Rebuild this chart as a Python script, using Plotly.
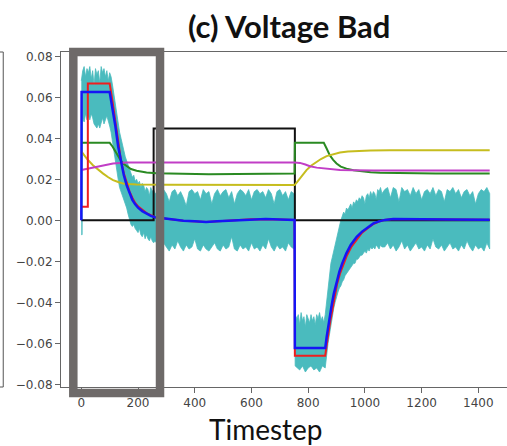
import plotly.graph_objects as go

# ---------------- data ----------------
# noisy measurement band (cyan): upper and lower envelopes
cyan_hi_t = (list(range(0, 101, 5)) + list(range(105, 261, 5)) + list(range(270, 751, 10))
             + [753, 754] + list(range(760, 861, 5)) + list(range(865, 1061, 5))
             + list(range(1070, 1441, 10)))
cyan_hi_v = (
    [0.068, 0.073, 0.075, 0.070, 0.074, 0.072, 0.075, 0.069, 0.073, 0.066, 0.074,
     0.071, 0.073, 0.067, 0.075, 0.072, 0.074, 0.070, 0.073, 0.068, 0.072]
    + [0.070, 0.066, 0.061, 0.056, 0.052, 0.048, 0.043, 0.040, 0.036, 0.034, 0.031,
       0.029, 0.028, 0.025, 0.024, 0.021, 0.022, 0.019, 0.020, 0.018, 0.019, 0.016,
       0.018, 0.017, 0.014, 0.016, 0.015, 0.012, 0.016, 0.014, 0.015, 0.013]
    + [0.014, 0.012, 0.015, 0.013, 0.009, 0.014, 0.015, 0.012, 0.014, 0.011, 0.007,
       0.014, 0.015, 0.013, 0.014, 0.010, 0.015, 0.013, 0.014, 0.008, 0.013, 0.015,
       0.012, 0.014, 0.015, 0.011, 0.014, 0.008, 0.013, 0.015, 0.014, 0.012, 0.015,
       0.010, 0.014, 0.015, 0.013, 0.014, 0.011, 0.015, 0.013, 0.008, 0.014, 0.015,
       0.012, 0.014, 0.010, 0.014, 0.013]
    + [0.013, -0.046]
    + [-0.048, -0.046, -0.051, -0.045, -0.049, -0.047, -0.052, -0.046, -0.048, -0.050,
       -0.046, -0.049, -0.047, -0.051, -0.046, -0.048, -0.045, -0.049, -0.047, -0.050,
       -0.046]
    + [-0.040, -0.033, -0.026, -0.021, -0.018, -0.015, -0.011, -0.008, -0.005, -0.002,
       0.000, 0.002, 0.004, 0.003, 0.006, 0.005, 0.007, 0.008, 0.006, 0.009, 0.008,
       0.010, 0.009, 0.011, 0.010, 0.012, 0.011, 0.008, 0.012, 0.013, 0.011, 0.014,
       0.012, 0.014, 0.013, 0.010, 0.015, 0.014, 0.016, 0.013]
    + [0.015, 0.016, 0.011, 0.016, 0.015, 0.009, 0.016, 0.014, 0.015, 0.012, 0.016,
       0.013, 0.015, 0.010, 0.014, 0.015, 0.013, 0.016, 0.012, 0.015, 0.014, 0.009,
       0.015, 0.014, 0.016, 0.013, 0.015, 0.011, 0.014, 0.015, 0.012, 0.014, 0.008,
       0.013, 0.015, 0.014, 0.016, 0.013]
)
cyan_lo_t = ([0, 3, 4] + list(range(10, 101, 5)) + list(range(105, 261, 5))
             + list(range(270, 751, 10)) + [753, 754] + list(range(760, 861, 10))
             + list(range(865, 1061, 5)) + list(range(1070, 1441, 10)))
cyan_lo_v = (
    [-0.007, -0.007, 0.050]
    + [0.048, 0.052, 0.049, 0.051, 0.049, 0.052, 0.050, 0.047, 0.046, 0.045, 0.047,
       0.045, 0.048, 0.050, 0.047, 0.049, 0.051, 0.049, 0.046]
    + [0.043, 0.039, 0.034, 0.029, 0.025, 0.020, 0.016, 0.014, 0.011, 0.009, 0.008,
       0.006, 0.003, 0.000, -0.002, -0.003, -0.002, -0.004, -0.005, -0.006, -0.004,
       -0.007, -0.008, -0.006, -0.009, -0.007, -0.009, -0.010, -0.008, -0.010, -0.011,
       -0.010]
    + [-0.012, -0.014, -0.011, -0.013, -0.015, -0.012, -0.014, -0.010, -0.013, -0.015,
       -0.012, -0.014, -0.013, -0.009, -0.014, -0.015, -0.012, -0.014, -0.015, -0.013,
       -0.011, -0.014, -0.015, -0.012, -0.014, -0.013, -0.008, -0.014, -0.015, -0.012,
       -0.014, -0.013, -0.015, -0.011, -0.014, -0.013, -0.015, -0.012, -0.014, -0.009,
       -0.013, -0.015, -0.012, -0.014, -0.013, -0.015, -0.011, -0.013, -0.014]
    + [-0.014, -0.071]
    + [-0.072, -0.073, -0.071, -0.074, -0.072, -0.071, -0.073, -0.072, -0.074, -0.071,
       -0.072]
    + [-0.066, -0.060, -0.055, -0.051, -0.047, -0.043, -0.040, -0.037, -0.035, -0.033,
       -0.032, -0.030, -0.029, -0.027, -0.026, -0.025, -0.024, -0.023, -0.022, -0.021,
       -0.021, -0.019, -0.019, -0.018, -0.017, -0.017, -0.016, -0.015, -0.016, -0.014,
       -0.015, -0.013, -0.014, -0.013, -0.014, -0.012, -0.013, -0.014, -0.012, -0.013]
    + [-0.013, -0.011, -0.014, -0.012, -0.015, -0.013, -0.010, -0.014, -0.012, -0.015,
       -0.013, -0.011, -0.014, -0.013, -0.015, -0.012, -0.014, -0.009, -0.013, -0.014,
       -0.012, -0.015, -0.013, -0.011, -0.014, -0.013, -0.015, -0.012, -0.014, -0.010,
       -0.013, -0.015, -0.012, -0.014, -0.013, -0.015, -0.011, -0.014]
)
assert len(cyan_hi_t) == len(cyan_hi_v), (len(cyan_hi_t), len(cyan_hi_v))
assert len(cyan_lo_t) == len(cyan_lo_v), (len(cyan_lo_t), len(cyan_lo_v))

# filtered estimate (blue)
blue_t = [0, 1, 100, 110, 120, 130, 140, 150, 160, 170, 180, 190, 200, 215, 230, 245, 260,
          280, 300, 330, 360, 400, 440, 480, 520, 560, 600, 650, 700, 752, 753, 860, 865,
          870, 876, 882, 890, 900, 910, 920, 935, 950, 971, 990, 1010, 1030, 1050, 1070,
          1100, 1150, 1200, 1300, 1400, 1440]
blue_v = [0.0, 0.0626, 0.0626, 0.055, 0.046, 0.036, 0.028, 0.022, 0.017, 0.013, 0.010,
          0.0078, 0.0062, 0.0045, 0.0032, 0.0022, 0.0015, 0.0011, 0.0008, 0.0003, -0.0002,
          -0.0005, -0.0008, -0.0004, -0.0001, 0.0002, 0.0005, 0.0006, 0.0004, 0.0002,
          -0.0623, -0.0623, -0.057, -0.052, -0.047, -0.042, -0.036, -0.030, -0.025, -0.021,
          -0.016, -0.012, -0.008, -0.0055, -0.0035, -0.0015, -0.0005, 0.0002, 0.0006,
          0.0007, 0.0005, 0.0004, 0.0003, 0.0003]

# true value (red)
red_t = [0, 23, 23, 100, 110, 120, 130, 140, 150, 160, 170, 180, 190, 200, 215, 230, 245,
         260, 300, 360, 440, 520, 600, 700, 752, 753, 860, 866, 872, 878, 885, 892, 902,
         912, 922, 937, 952, 972, 990, 1010, 1030, 1050, 1070, 1100, 1440]
red_v = [0.0066, 0.0066, 0.0667, 0.0667, 0.058, 0.048, 0.038, 0.029, 0.023, 0.018, 0.014,
         0.011, 0.0085, 0.0068, 0.005, 0.0035, 0.0025, 0.0015, 0.0008, -0.0002, -0.0008,
         -0.0001, 0.0005, 0.0004, 0.0002, -0.066, -0.066, -0.060, -0.054, -0.049, -0.044,
         -0.038, -0.031, -0.026, -0.022, -0.017, -0.013, -0.009, -0.006, -0.0038, -0.0018,
         -0.0006, 0.0002, 0.0006, 0.0003]

# black step
black_t = [0, 255, 255, 753, 753, 1440]
black_v = [0.0, 0.0, 0.0448, 0.0448, 0.0, 0.0]

# green
green_t = [0, 100, 110, 120, 130, 140, 150, 160, 175, 195, 230, 265, 350, 450, 550, 650,
           752, 753, 855, 865, 876, 888, 900, 915, 935, 960, 982, 1020, 1053, 1150, 1250,
           1440]
green_v = [0.0378, 0.0378, 0.036, 0.0335, 0.031, 0.029, 0.0275, 0.0265, 0.025, 0.0242,
           0.0233, 0.0229, 0.0226, 0.0225, 0.0226, 0.0228, 0.0228, 0.0378, 0.0378, 0.035,
           0.0318, 0.0295, 0.0277, 0.0262, 0.0252, 0.0244, 0.024, 0.0235, 0.0232, 0.0229,
           0.0228, 0.0228]

# yellow
yellow_t = [0, 20, 41, 60, 76, 95, 112, 130, 147, 170, 194, 300, 500, 752, 760, 771, 782,
            794, 810, 829, 845, 865, 890, 912, 940, 971, 1020, 1088, 1440]
yellow_v = [0.0336, 0.030, 0.0269, 0.0245, 0.0229, 0.021, 0.0196, 0.0187, 0.018, 0.0177,
            0.0175, 0.0173, 0.0172, 0.0172, 0.0185, 0.0204, 0.0225, 0.0245, 0.0266,
            0.0285, 0.0299, 0.0313, 0.0324, 0.0331, 0.0336, 0.0339, 0.0341, 0.0342, 0.0342]

# magenta
magenta_t = [0, 30, 65, 90, 112, 135, 159, 752, 771, 790, 806, 830, 853, 880, 912, 960,
             1029, 1440]
magenta_v = [0.0245, 0.0254, 0.0264, 0.0271, 0.0277, 0.028, 0.0282, 0.0282, 0.028, 0.0272,
             0.0264, 0.0257, 0.0253, 0.0249, 0.0245, 0.0244, 0.0243, 0.0243]

x_ticks = [0, 200, 400, 600, 800, 1000, 1200, 1400]
y_ticks = [-0.08, -0.06, -0.04, -0.02, 0.0, 0.02, 0.04, 0.06, 0.08]

# ---------------- figure ----------------
CYAN = "#4abbbe"
fig = go.Figure()
fig.add_trace(go.Scatter(
    x=cyan_hi_t + cyan_lo_t[::-1], y=cyan_hi_v + cyan_lo_v[::-1],
    mode="lines", fill="toself", fillcolor=CYAN,
    line=dict(color=CYAN, width=0.8), hoverinfo="skip"))

def add_line(t, v, color, width=2.0):
    fig.add_trace(go.Scatter(x=t, y=v, mode="lines",
                             line=dict(color=color, width=width)))

add_line(black_t, black_v, "#111111", 2.0)
add_line(green_t, green_v, "#2a8a22", 2.0)
add_line(yellow_t, yellow_v, "#c6bd1e", 2.0)
add_line(magenta_t, magenta_v, "#c13ec6", 2.0)
add_line(red_t, red_v, "#f01e1e", 2.0)
add_line(blue_t, blue_v, "#1515f5", 2.5)

axis_common = dict(
    showline=True, linecolor="#666666", linewidth=1, mirror=True,
    ticks="outside", ticklen=5, tickcolor="#666666", tickwidth=1,
    tickfont=dict(family="DejaVu Sans", size=12, color="#444444"),
    showgrid=False, zeroline=False,
)
fig.update_xaxes(range=[-71.6, 1501], tickvals=x_ticks,
                 ticktext=[str(t) for t in x_ticks], **axis_common)
fig.update_yaxes(range=[-0.0813, 0.0821], tickvals=y_ticks,
                 ticktext=[f"{v:.2f}".replace("-", "\u2212") for v in y_ticks],
                 **axis_common)

fig.update_layout(
    width=507, height=446,
    margin=dict(l=61, r=0, t=52, b=59),
    paper_bgcolor="white", plot_bgcolor="white",
    showlegend=False,
    shapes=[
        # grey highlight box
        dict(type="rect", xref="paper", yref="paper",
             x0=0.0276, x1=0.222, y0=-0.018, y1=1.0,
             line=dict(color="#6e6a69", width=8.5), fillcolor="rgba(0,0,0,0)",
             layer="above"),
        # right edge of neighbouring panel
        dict(type="line", xref="paper", yref="paper",
             x0=-0.1295, x1=-0.1295, y0=0.0, y1=1.0,
             line=dict(color="#555555", width=1)),
        dict(type="line", xref="paper", yref="paper",
             x0=-0.137, x1=-0.1295, y0=1.0, y1=1.0,
             line=dict(color="#555555", width=1)),
        dict(type="line", xref="paper", yref="paper",
             x0=-0.137, x1=-0.1295, y0=0.0, y1=0.0,
             line=dict(color="#555555", width=1)),
    ],
    annotations=[
        dict(text="<b>(c) Voltage Bad</b>", xref="paper", yref="paper",
             x=0.511, y=1.078, xanchor="center", yanchor="middle", showarrow=False,
             font=dict(family="Lato", size=31, color="#111111")),
        dict(text="Timestep", xref="paper", yref="paper",
             x=0.4596, y=-0.125, xanchor="center", yanchor="middle", showarrow=False,
             font=dict(family="Lato", size=28, color="#111111")),
    ],
)

fig.write_html("out.html",
               config={"displayModeBar": False},
               post_script="document.body.style.margin='0';"
                           "document.documentElement.style.overflow='hidden';")
